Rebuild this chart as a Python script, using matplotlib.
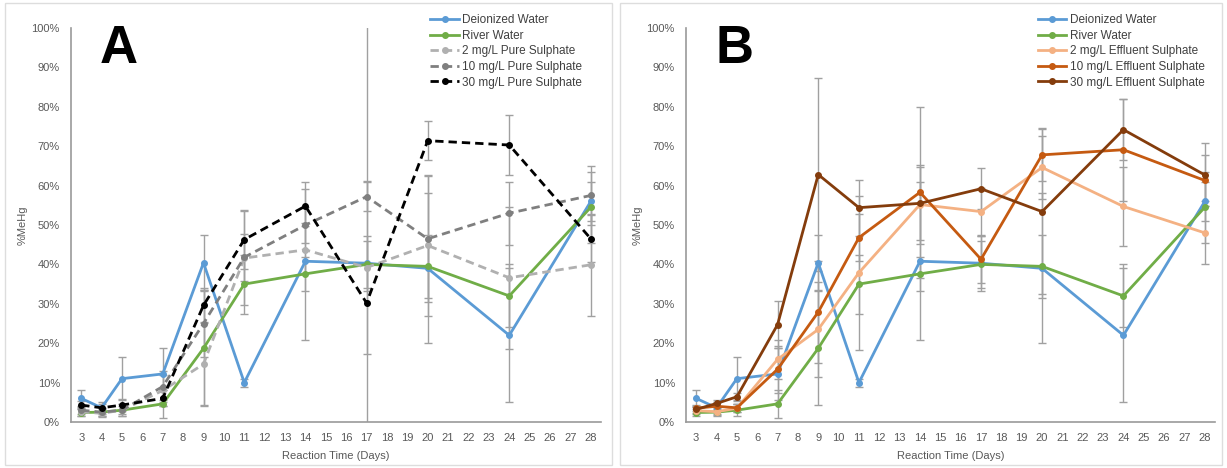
import numpy as np
import matplotlib.pyplot as plt
from matplotlib.patches import Rectangle

plt.rcParams['font.family'] = ['Liberation Sans', 'DejaVu Sans']

days = [3, 4, 5, 7, 9, 11, 14, 17, 20, 24, 28]
xticks = list(range(3, 29))

# %MeHg, shared controls
di_water = [6.0, 3.6, 11.0, 12.2, 40.4, 10.0, 40.8, 40.3, 39.0, 22.0, 56.0]
di_err = [2.2, 1.5, 5.5, 6.7, 7.0, 1.0, 20.0, 7.0, 19.0, 17.0, 5.0]
river = [2.4, 2.5, 3.0, 4.6, 18.7, 35.0, 37.6, 40.0, 39.5, 32.0, 54.5]
river_err = [1.0, 1.0, 1.5, 3.5, 14.5, 7.5, 4.4, 6.0, 8.0, 8.0, 9.0]

# panel A, pure sulphate
pure_2 = [2.6, 2.2, 3.0, 8.0, 14.7, 41.6, 43.7, 39.2, 44.8, 36.6, 39.9]
pure_2_err = [1.0, 1.0, 1.0, 4.0, 10.7, 12.0, 6.0, 22.0, 18.0, 18.0, 13.0]
pure_10 = [3.0, 2.5, 3.0, 9.0, 25.0, 41.8, 50.0, 57.2, 46.5, 53.0, 57.5]
pure_10_err = [1.0, 1.0, 1.5, 4.0, 8.5, 6.0, 4.5, 3.6, 16.0, 8.0, 7.5]
pure_30 = [4.3, 3.6, 4.3, 6.0, 29.6, 46.3, 54.8, 30.2, 71.4, 70.3, 46.5]
pure_30_err = [1.0, 1.0, 1.5, 2.0, 4.5, 7.5, 4.4, 75.0, 5.0, 7.6, 6.0]

# panel B, effluent sulphate
eff_2 = [2.9, 2.6, 3.5, 15.9, 23.5, 37.9, 55.2, 53.4, 64.6, 54.7, 48.0]
eff_2_err = [0.8, 0.8, 1.0, 5.0, 12.0, 19.5, 10.0, 6.0, 8.0, 10.0, 8.0]
eff_10 = [3.5, 4.0, 3.6, 13.4, 27.9, 46.8, 58.3, 41.3, 67.8, 69.1, 61.3]
eff_10_err = [0.8, 1.0, 1.0, 6.0, 13.0, 6.0, 21.7, 6.0, 6.7, 13.0, 6.5]
eff_30 = [3.2, 4.7, 6.4, 24.7, 62.8, 54.4, 55.5, 59.2, 53.4, 74.2, 62.7]
eff_30_err = [0.8, 1.0, 1.0, 6.0, 24.4, 7.1, 9.3, 5.2, 21.0, 7.8, 8.0]

W, H = 1227, 468
fig = plt.figure(figsize=(W / 100, H / 100), dpi=100)

# panel frames
for x0, x1 in [(5, 612), (620, 1222)]:
    fig.patches.append(Rectangle((x0 / W, 1 - 465 / H), (x1 - x0) / W, 462 / H,
                                 transform=fig.transFigure, fill=False,
                                 edgecolor='#dddddd', lw=1))

def to_frac(v):
    return np.array(v) / 100.0

def setup(ax, letter):
    ax.set_xlim(2.5, 28.5)
    ax.set_ylim(0, 1)
    ax.set_xticks(xticks)
    ax.set_yticks(np.arange(0, 1.01, 0.1))
    ax.set_yticklabels([f"{int(round(t * 100))}%" for t in np.arange(0, 1.01, 0.1)])
    for s in ['top', 'right']:
        ax.spines[s].set_visible(False)
    for s in ['left', 'bottom']:
        ax.spines[s].set_color('#9a9a9a')
        ax.spines[s].set_linewidth(1.2)
    ax.tick_params(length=0, labelsize=8, labelcolor='#595959', pad=8)
    ax.set_xlabel("Reaction Time (Days)", fontsize=8, color='#595959', labelpad=6)
    ax.set_ylabel("%MeHg", fontsize=8, color='#595959', labelpad=3)
    ax.text(0.055, 0.911, letter, transform=ax.transAxes, fontsize=38,
            fontweight='bold', color='black', va='baseline', ha='left')

def series(ax, y, err, color, label, dashed=False):
    ax.errorbar(days, to_frac(y), yerr=to_frac(err), fmt='none', ecolor='#a0a0a0',
                elinewidth=1, capsize=3, capthick=1, zorder=1)
    line, = ax.plot(days, to_frac(y), color=color, lw=2, marker='o', ms=4,
                    label=label, zorder=3)
    if dashed:
        line.set_dashes((3, 1.8))

axA = fig.add_axes([71 / W, 1 - 422 / H, 530 / W, 394 / H])
setup(axA, "A")
series(axA, di_water, di_err, '#5b9bd5', "Deionized Water")
series(axA, river, river_err, '#70ad47', "River Water")
series(axA, pure_2, pure_2_err, '#b0b0b0', "2 mg/L Pure Sulphate", dashed=True)
series(axA, pure_10, pure_10_err, '#7f7f7f', "10 mg/L Pure Sulphate", dashed=True)
series(axA, pure_30, pure_30_err, '#000000', "30 mg/L Pure Sulphate", dashed=True)

axB = fig.add_axes([686 / W, 1 - 422 / H, 529 / W, 394 / H])
setup(axB, "B")
series(axB, di_water, di_err, '#5b9bd5', "Deionized Water")
series(axB, river, river_err, '#70ad47', "River Water")
series(axB, eff_2, eff_2_err, '#f4b183', "2 mg/L Effluent Sulphate")
series(axB, eff_10, eff_10_err, '#c55a11', "10 mg/L Effluent Sulphate")
series(axB, eff_30, eff_30_err, '#843c0c', "30 mg/L Effluent Sulphate")

for ax, xl in [(axA, 428), (axB, 1036)]:
    x0 = ax.get_position().x0 * W
    leg = ax.legend(loc='upper left', bbox_to_anchor=((xl - x0) / 530, (422 - 12) / 394),
                    frameon=False, fontsize=8.5, handlelength=2.4, handletextpad=0.3,
                    labelspacing=0.3, borderpad=0.2, borderaxespad=0)
    for t in leg.get_texts():
        t.set_color('#404040')

fig.savefig("out.png", dpi=100)
